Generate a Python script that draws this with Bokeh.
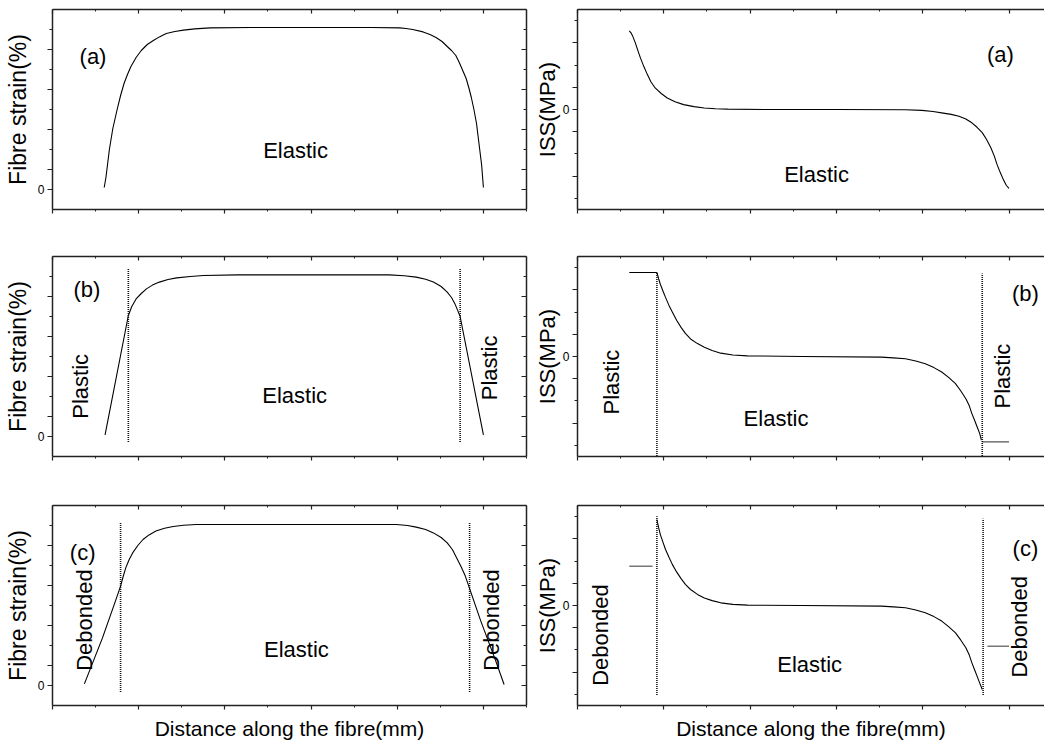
from bokeh.plotting import figure
from bokeh.layouts import column, row
from bokeh.models import LinearAxis, FixedTicker, Range1d, Label
from bokeh.embed import file_html
from bokeh.resources import INLINE
import math

# ---------------- data ----------------
# (a) elastic fibre strain
strain_a_x = [0.60, 0.62, 0.64, 0.66, 0.70, 0.75, 0.79, 0.83, 0.87, 0.91, 0.97, 1.03, 1.10, 1.17,
              1.24, 1.32, 1.42, 1.52, 1.65, 1.83, 2.30, 3.00, 3.70, 4.03, 4.10, 4.18, 4.30, 4.38,
              4.45, 4.52, 4.58, 4.63, 4.68, 4.72, 4.76, 4.80, 4.83, 4.86, 4.89, 4.92, 4.94, 4.96,
              4.98, 5.00]
strain_a_y = [0.10, 0.60, 1.30, 2.00, 3.05, 4.00, 4.70, 5.30, 5.75, 6.15, 6.60, 6.95, 7.25, 7.45,
              7.63, 7.80, 7.90, 7.97, 8.03, 8.08, 8.10, 8.10, 8.10, 8.08, 8.05, 8.00, 7.88, 7.75,
              7.60, 7.40, 7.15, 6.95, 6.70, 6.35, 5.95, 5.55, 5.10, 4.60, 4.00, 3.30, 2.60, 1.90,
              1.20, 0.10]
# (a) elastic ISS
iss_a_x = [0.60, 0.62, 0.64, 0.67, 0.70, 0.73, 0.77, 0.81, 0.85, 0.90, 0.97, 1.04, 1.13, 1.23,
           1.35, 1.47, 1.60, 1.74, 2.20, 3.00, 3.80, 3.99, 4.12, 4.22, 4.33, 4.42, 4.50, 4.57,
           4.63, 4.69, 4.74, 4.79, 4.83, 4.86, 4.90, 4.94, 4.97, 5.00]
iss_a_y = [3.54, 3.45, 3.30, 3.00, 2.65, 2.31, 1.92, 1.57, 1.25, 0.97, 0.72, 0.52, 0.35, 0.22,
           0.13, 0.07, 0.035, 0.015, 0.0, 0.0, -0.01, -0.04, -0.09, -0.15, -0.22, -0.30, -0.43,
           -0.60, -0.80, -1.04, -1.35, -1.72, -2.10, -2.46, -2.85, -3.20, -3.42, -3.55]

# (b) plastic + elastic fibre strain
strain_b_x = [0.61, 0.88, 0.92, 0.97, 1.03, 1.09, 1.16, 1.24, 1.34, 1.44, 1.60, 1.75, 2.15,
              3.00, 3.91, 4.08, 4.22, 4.33, 4.42, 4.51, 4.58, 4.63, 4.67, 4.70, 4.73, 5.00]
strain_b_y = [0.08, 6.05, 6.50, 6.88, 7.15, 7.38, 7.57, 7.72, 7.85, 7.93, 8.00, 8.05, 8.08,
              8.08, 8.08, 8.04, 7.97, 7.86, 7.72, 7.50, 7.22, 6.95, 6.63, 6.32, 6.00, 0.08]
strain_b_bound_x = [0.88, 4.73]
strain_b_bound_y0 = [-0.28, -0.28]
strain_b_bound_y1 = [8.38, 8.38]
# (b) ISS
iss_b_plateau_left_x = [0.60, 0.92]
iss_b_plateau_left_y = [3.78, 3.78]
iss_b_x = [0.92, 0.94, 0.96, 0.99, 1.02, 1.06, 1.10, 1.15, 1.20, 1.25, 1.31, 1.39, 1.47, 1.56,
           1.66, 1.80, 1.97, 2.60, 3.52, 3.66, 3.80, 3.92, 4.03, 4.13, 4.22, 4.30, 4.38, 4.44,
           4.50, 4.54, 4.57, 4.60, 4.63, 4.66, 4.68]
iss_b_y = [3.78, 3.50, 3.25, 2.95, 2.66, 2.30, 1.99, 1.62, 1.31, 1.04, 0.79, 0.58, 0.42, 0.27,
           0.15, 0.07, 0.03, 0.0, -0.03, -0.06, -0.10, -0.20, -0.33, -0.50, -0.70, -0.94, -1.22,
           -1.54, -1.90, -2.22, -2.57, -2.86, -3.16, -3.46, -3.76]
iss_b_plateau_right_x = [4.69, 5.00]
iss_b_plateau_right_y = [-3.84, -3.84]
iss_b_bound_x = [0.92, 4.69]
iss_b_bound_y0 = [-4.48, -4.48]
iss_b_bound_y1 = [3.78, 3.73]

# (c) debonded + elastic fibre strain
strain_c_x = [0.37, 0.58, 0.73, 0.79, 0.82, 0.85, 0.89, 0.93, 0.99, 1.05, 1.12, 1.20, 1.30,
              1.40, 1.52, 1.67, 2.50, 3.30, 3.99, 4.12, 4.22, 4.33, 4.42, 4.51, 4.58, 4.64,
              4.69, 4.74, 4.79, 4.85, 4.97, 5.13, 5.24]
strain_c_y = [0.08, 2.38, 4.22, 4.97, 5.45, 5.88, 6.30, 6.63, 7.00, 7.30, 7.53, 7.72, 7.86,
              7.95, 8.01, 8.05, 8.05, 8.05, 8.05, 8.00, 7.92, 7.80, 7.63, 7.40, 7.13, 6.80,
              6.38, 5.95, 5.47, 4.72, 3.22, 1.38, 0.05]
strain_c_bound_x = [0.79, 4.84]
strain_c_bound_y0 = [-0.33, -0.33]
strain_c_bound_y1 = [8.13, 8.13]
# (c) ISS
iss_c_x = [0.92, 0.94, 0.96, 0.99, 1.02, 1.06, 1.10, 1.15, 1.20, 1.25, 1.31, 1.39, 1.47, 1.56,
           1.66, 1.80, 1.97, 2.60, 3.52, 3.66, 3.80, 3.92, 4.03, 4.13, 4.22, 4.30, 4.38, 4.44,
           4.50, 4.54, 4.57, 4.60, 4.63, 4.66, 4.69]
iss_c_y = [3.87, 3.50, 3.19, 2.85, 2.52, 2.17, 1.84, 1.50, 1.21, 0.95, 0.72, 0.50, 0.34, 0.22,
           0.12, 0.05, 0.015, 0.0, -0.03, -0.06, -0.10, -0.20, -0.33, -0.50, -0.70, -0.95, -1.23,
           -1.55, -1.90, -2.23, -2.58, -2.88, -3.18, -3.48, -3.78]
iss_c_friction_x0 = [0.60, 4.75]
iss_c_friction_x1 = [0.87, 5.00]
iss_c_friction_y = [1.77, -1.83]
iss_c_bound_x = [0.92, 4.70]
iss_c_bound_y0 = [-4.03, -4.03]
iss_c_bound_y1 = [4.02, 3.90]

x_major = [0, 1, 2, 3, 4, 5]
x_minor = [0.5, 1.5, 2.5, 3.5, 4.5, 5.5]
strain_major = [0, 1, 3, 5, 7]
strain_minor = [2, 4, 6, 8]
iss_major = [-3, -1, 0, 1, 3]
iss_minor = [-4, -2, 2, 4]

FONT = "Liberation Sans"
AX = "#222222"


def style_axis(ax, tin, tout, mtin, mtout, show_zero=False, fs="0px"):
    ax.axis_line_color = AX
    ax.axis_line_width = 1.5
    ax.major_tick_line_color = AX
    ax.major_tick_line_width = 1.2
    ax.minor_tick_line_color = AX
    ax.minor_tick_line_width = 1
    ax.major_tick_in = tin
    ax.major_tick_out = tout
    ax.minor_tick_in = mtin
    ax.minor_tick_out = mtout
    ax.major_label_text_font = FONT
    ax.major_label_text_color = "black"
    ax.axis_label_text_font = FONT
    ax.axis_label_text_font_style = "normal"
    ax.axis_label_text_color = "black"
    if show_zero:
        ax.major_label_text_font_size = fs
        ax.major_label_standoff = 3
    else:
        ax.major_label_text_font_size = "0px"
        ax.major_label_standoff = 0


def make_panel(side, top, bottom, ylabel, xlabel=None):
    if side == "left":
        fw, xr, yr = 474, Range1d(0, 5.5), Range1d(-1, 9)
        bl, br = 52, 5
        ymaj, ymin = strain_major, strain_minor
    else:
        fw, xr, yr = 467, Range1d(0, 467 / 86.3), Range1d(-4.5, 4.5)
        bl, br = 46, 0
        ymaj, ymin = iss_major, iss_minor
    p = figure(frame_width=fw, frame_height=200, x_range=xr, y_range=yr,
               min_border_left=bl, min_border_right=br, min_border_top=top,
               min_border_bottom=bottom, output_backend="svg", toolbar_location=None,
               background_fill_color="white", border_fill_color="white",
               outline_line_color=None)
    p.xgrid.visible = False
    p.ygrid.visible = False

    xb = p.xaxis[0]
    xb.ticker = FixedTicker(ticks=x_major, minor_ticks=x_minor)
    xb.major_label_overrides = {t: "" for t in x_major}
    style_axis(xb, 0, 4, 0, 2)
    if xlabel:
        xb.axis_label = xlabel
        xb.axis_label_text_font_size = "21px"
        xb.axis_label_standoff = 7

    yl = p.yaxis[0]
    yl.ticker = FixedTicker(ticks=ymaj, minor_ticks=ymin)
    yl.major_label_overrides = {t: ("0" if t == 0 else "") for t in ymaj}
    style_axis(yl, 0, 5, 0, 3, show_zero=True, fs="12px")
    yl.axis_label = ylabel
    yl.axis_label_text_font_size = "23px" if side == "left" else "22px"
    yl.axis_label_standoff = 4 if side == "left" else 0

    xt = LinearAxis(ticker=FixedTicker(ticks=x_major, minor_ticks=x_minor))
    xt.major_label_overrides = {t: "" for t in x_major}
    style_axis(xt, 4, 0, 2, 0)
    p.add_layout(xt, "above")

    if side == "left":
        yr_ax = LinearAxis(ticker=FixedTicker(ticks=ymaj, minor_ticks=ymin))
        yr_ax.major_label_overrides = {t: "" for t in ymaj}
        style_axis(yr_ax, 5, 0, 3, 0)
        p.add_layout(yr_ax, "right")
    return p


def add_text(p, x, y, text, rotated=False):
    p.add_layout(Label(x=x, y=y, text=text, angle=(math.pi / 2 if rotated else 0),
                       text_font=FONT, text_font_size="22px", text_color="black",
                       text_align="center", text_baseline="middle"))


def curve(p, xs, ys, color="black", width=1.1):
    p.line(xs, ys, line_color=color, line_width=width, line_join="round")


def bounds(p, xs, y0, y1):
    p.segment(x0=xs, y0=y0, x1=xs, y1=y1, line_color="#111111", line_width=1.6,
              line_dash="1 1")


# ---- row (a)
a_l = make_panel("left", 9, 30, "Fibre strain(%)")
curve(a_l, strain_a_x, strain_a_y)
add_text(a_l, 0.47, 6.67, "(a)")
add_text(a_l, 2.82, 1.97, "Elastic")

a_r = make_panel("right", 9, 30, "ISS(MPa)")
curve(a_r, iss_a_x, iss_a_y)
add_text(a_r, 4.90, 2.46, "(a)")
add_text(a_r, 2.77, -2.91, "Elastic")

# ---- row (b)
b_l = make_panel("left", 17, 31, "Fibre strain(%)")
curve(b_l, strain_b_x, strain_b_y)
bounds(b_l, strain_b_bound_x, strain_b_bound_y0, strain_b_bound_y1)
add_text(b_l, 0.40, 7.34, "(b)")
add_text(b_l, 0.33, 2.51, "Plastic", rotated=True)
add_text(b_l, 2.81, 2.05, "Elastic")
add_text(b_l, 5.07, 3.43, "Plastic", rotated=True)

b_r = make_panel("right", 17, 31, "ISS(MPa)")
curve(b_r, iss_b_plateau_left_x, iss_b_plateau_left_y)
curve(b_r, iss_b_x, iss_b_y)
curve(b_r, iss_b_plateau_right_x, iss_b_plateau_right_y, color="#555555", width=1.4)
bounds(b_r, iss_b_bound_x, iss_b_bound_y0, iss_b_bound_y1)
add_text(b_r, 5.19, 2.85, "(b)")
add_text(b_r, 0.39, -1.15, "Plastic", rotated=True)
add_text(b_r, 2.30, -2.79, "Elastic")
add_text(b_r, 4.93, -0.88, "Plastic", rotated=True)

# ---- row (c)
c_l = make_panel("left", 18, 36, "Fibre strain(%)", "Distance along the fibre(mm)")
curve(c_l, strain_c_x, strain_c_y)
bounds(c_l, strain_c_bound_x, strain_c_bound_y0, strain_c_bound_y1)
add_text(c_l, 0.35, 6.63, "(c)")
add_text(c_l, 0.37, 3.27, "Debonded", rotated=True)
add_text(c_l, 2.83, 1.80, "Elastic")
add_text(c_l, 5.09, 3.27, "Debonded", rotated=True)

c_r = make_panel("right", 18, 36, "ISS(MPa)", "Distance along the fibre(mm)")
curve(c_r, iss_c_x, iss_c_y)
c_r.segment(x0=iss_c_friction_x0, y0=iss_c_friction_y, x1=iss_c_friction_x1,
            y1=iss_c_friction_y, line_color="#777777", line_width=1.5)
bounds(c_r, iss_c_bound_x, iss_c_bound_y0, iss_c_bound_y1)
add_text(c_r, 5.19, 2.56, "(c)")
add_text(c_r, 0.27, -1.33, "Debonded", rotated=True)
add_text(c_r, 2.69, -2.65, "Elastic")
add_text(c_r, 5.12, -0.96, "Debonded", rotated=True)

layout = column(row(a_l, a_r, spacing=0), row(b_l, b_r, spacing=0),
                row(c_l, c_r, spacing=0), spacing=0)

open("out.html", "w").write(file_html(layout, INLINE))
